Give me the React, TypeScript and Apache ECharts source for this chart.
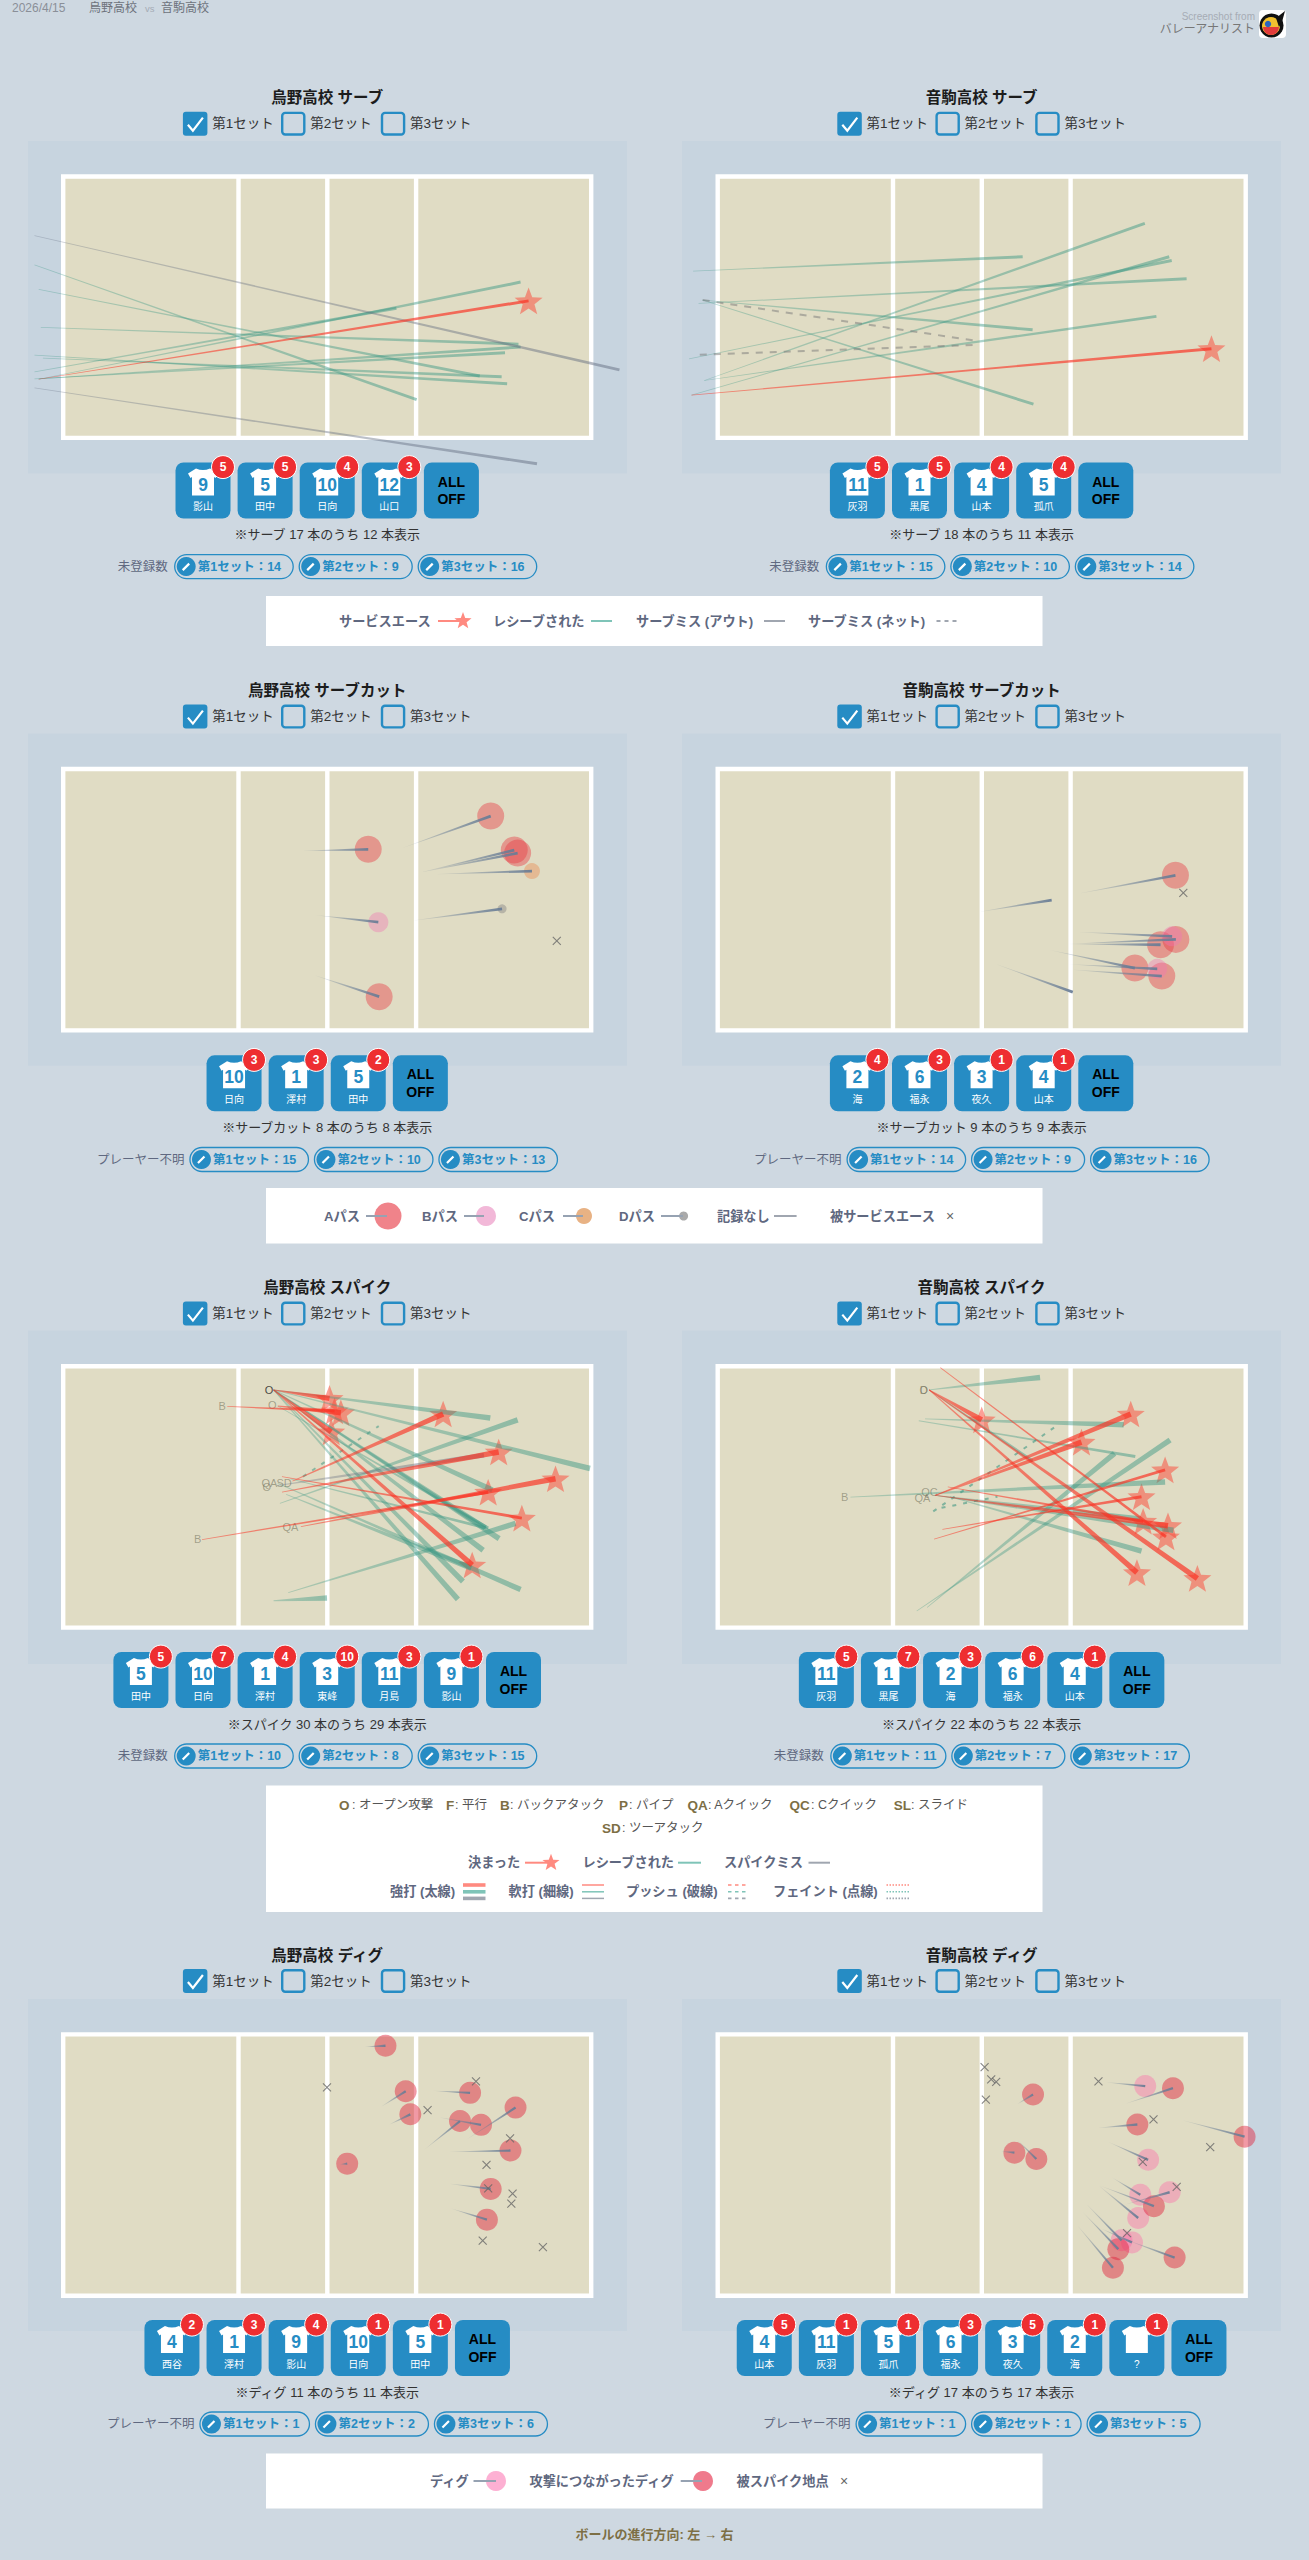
import React, { useEffect, useRef } from "react";
import * as echarts from "echarts";

const FONT = '"Liberation Sans", "Noto Sans CJK JP", sans-serif';
const BLUE = "#268cc4";
const TEXT_GREY = "#5f6880";
const KEY_BROWN = "#7d6f45";

// Court coordinates below: [startX, startY, endX, endY, hit]
// hit: S = soft, H = strong
const S = 0;
const H = 1;

// ---- serve: Karasuno
const serveKarasunoAce = [[92, 929, 1256, 737, S]];
const serveKarasunoReceived = [
  [82, 649, 990, 979, S], [92, 709, 1140, 921, S], [102, 877, 1192, 923, S],
  [82, 870, 1205, 940, S], [97, 802, 1232, 843, S], [92, 928, 1237, 850, S],
  [82, 928, 1200, 864, S], [82, 911, 942, 755, S], [92, 929, 1237, 691, S],
];
const serveKarasunoOut = [[82, 577, 1472, 906, S], [82, 950, 1276, 1136, S]];

// ---- serve: Nekoma
const serveNekomaAce = [[76, 968, 1332, 854, S]];
const serveNekomaReceived = [
  [80, 664, 876, 629, S], [93, 743, 1272, 683, S], [103, 735, 900, 808, S],
  [103, 735, 902, 990, S], [70, 879, 1236, 638, S], [76, 968, 1230, 629, S],
  [107, 932, 1171, 547, S], [107, 932, 1199, 775, S],
];
const serveNekomaNet = [[96, 869, 760, 845], [103, 735, 765, 835]];

// ---- serve receive: Karasuno
const cutKarasunoA = [
  [953, 493, 1166, 408], [722, 499, 875, 495], [1005, 554, 1222, 497],
  [1005, 554, 1230, 505], [750, 826, 901, 881],
];
const cutKarasunoB = [[747, 667, 899, 686]];
const cutKarasunoC = [[1040, 560, 1264, 552]];
const cutKarasunoD = [[985, 681, 1193, 651]];
const cutKarasunoNone: number[][] = [];
const cutKarasunoAced = [[1323, 735]];

// ---- serve receive: Nekoma
const cutNekomaA = [
  [1017, 610, 1245, 563], [985, 743, 1246, 731], [985, 743, 1209, 745],
  [938, 758, 1147, 806], [1000, 811, 1212, 827],
];
const cutNekomaB = [[985, 796, 1201, 808], [1015, 712, 1237, 723]];
const cutNekomaC: number[][] = [];
const cutNekomaD: number[][] = [];
const cutNekomaNone = [[775, 658, 946, 628], [815, 797, 997, 869]];
const cutNekomaAced = [[1264, 609]];

// ---- spike: Karasuno
const spikeKarasunoKills = [
  [650, 291, 783, 310, H], [540, 328, 795, 338, S], [660, 327, 810, 342, H],
  [650, 291, 787, 385, H], [670, 485, 1240, 578, S], [695, 495, 1053, 345, H],
  [670, 520, 1185, 430, H], [480, 626, 1160, 520, S], [715, 597, 1320, 490, H],
  [650, 291, 1122, 683, H],
];
const spikeKarasunoReceived = [
  [650, 291, 1165, 354, H], [650, 291, 1402, 467, H], [650, 291, 1088, 760, H],
  [650, 291, 1100, 720, H], [650, 291, 1148, 650, H], [650, 291, 1186, 624, H],
  [650, 291, 1153, 600, H], [650, 291, 1170, 515, H], [660, 500, 1237, 738, H],
  [680, 525, 1120, 690, H], [665, 545, 1230, 358, H], [685, 745, 1225, 590, H],
  [650, 763, 777, 757, H], [690, 490, 1155, 600, S], [660, 327, 1160, 600, S],
];
const spikeKarasunoMiss = [[660, 505, 1150, 437, H]];
const spikeKarasunoPush = [[720, 485, 900, 372]];
const spikeKarasunoLabels = [
  { name: "B", value: [528, 326] }, { name: "O", value: [647, 325] },
  { name: "QA", value: [640, 500] }, { name: "SD", value: [675, 500] },
  { name: "O", value: [634, 508] }, { name: "B", value: [470, 624] },
  { name: "QA", value: [690, 597] },
];
const spikeKarasunoActiveLabels = [{ name: "O", value: [639, 291] }];

// ---- spike: Nekoma
const spikeNekomaKills = [
  [650, 291, 1152, 700, H], [650, 291, 1298, 713, H], [650, 291, 777, 358, H],
  [677, 241, 1222, 620, S], [665, 527, 1137, 345, H], [665, 527, 1018, 408, H],
  [662, 625, 1220, 470, S], [682, 603, 1163, 530, S], [695, 508, 1167, 585, S],
  [665, 527, 1227, 595, H],
];
const spikeNekomaReceived = [
  [650, 291, 918, 263, H], [640, 356, 1120, 369, H], [625, 360, 1148, 440, S],
  [460, 531, 1220, 497, H], [620, 786, 1232, 403, H], [645, 778, 1098, 433, H],
  [700, 530, 1163, 652, H], [665, 527, 1160, 580, H], [665, 527, 1240, 605, H],
  [650, 291, 900, 450, S],
];
const spikeNekomaMiss: number[][] = [];
const spikeNekomaPush = [[660, 563, 965, 367], [680, 555, 815, 530]];
const spikeNekomaLabels = [
  { name: "O", value: [637, 291] }, { name: "D", value: [637, 291] },
  { name: "QC", value: [651, 519] }, { name: "QA", value: [634, 532] },
  { name: "B", value: [446, 531] },
];

// ---- dig: Karasuno
const digKarasunoConnected = [
  [868, 349, 916, 346], [907, 490, 964, 454], [926, 533, 975, 509], [808, 628, 825, 626],
  [1027, 453, 1117, 458], [1008, 593, 1093, 525], [1047, 517, 1143, 534], [1107, 570, 1225, 493],
  [1070, 598, 1213, 595], [1070, 674, 1166, 686], [1070, 732, 1157, 759],
];
const digKarasunoPlain: number[][] = [];
const digKarasunoSpots = [
  [777, 445], [1016, 499], [1131, 431], [1212, 566], [1156, 629],
  [1160, 685], [1218, 697], [1215, 721], [1147, 809], [1290, 824],
];

// ---- dig: Nekoma
const digNekomaConnected = [
  [864, 484, 901, 462], [825, 597, 856, 600], [865, 572, 909, 615], [1127, 483, 1239, 447],
  [1060, 541, 1153, 533], [1265, 524, 1412, 562], [1062, 678, 1193, 727], [1130, 808, 1243, 849],
  [1022, 742, 1107, 829], [1010, 775, 1094, 873],
];
const digNekomaPlain = [
  [1080, 433, 1172, 442], [1082, 574, 1179, 617], [1092, 659, 1160, 700], [1127, 722, 1231, 694],
  [1062, 680, 1155, 755], [1032, 724, 1115, 808], [1065, 780, 1140, 813],
];
const digNekomaSpots = [
  [784, 397], [800, 426], [812, 432], [787, 474], [1059, 431],
  [1192, 521], [1329, 587], [1166, 622], [1248, 681], [1128, 791],
];

// ---- panel texts
const titles = [
  "烏野高校 サーブ", "音駒高校 サーブ", "烏野高校 サーブカット", "音駒高校 サーブカット",
  "烏野高校 スパイク", "音駒高校 スパイク", "烏野高校 ディグ", "音駒高校 ディグ",
];
const notes = [
  "※サーブ 17 本のうち 12 本表示", "※サーブ 18 本のうち 11 本表示",
  "※サーブカット 8 本のうち 8 本表示", "※サーブカット 9 本のうち 9 本表示",
  "※スパイク 30 本のうち 29 本表示", "※スパイク 22 本のうち 22 本表示",
  "※ディグ 11 本のうち 11 本表示", "※ディグ 17 本のうち 17 本表示",
];
const pillLabels = ["未登録数", "未登録数", "プレーヤー不明", "プレーヤー不明", "未登録数", "未登録数", "プレーヤー不明", "プレーヤー不明"];
const pillCounts = [
  [14, 9, 16], [15, 10, 14], [15, 10, 13], [14, 9, 16],
  [10, 8, 15], [11, 7, 17], [1, 2, 6], [1, 1, 5],
];
const setNames = ["第1セット", "第2セット", "第3セット"];
const playerNumbers = [
  ["9", "5", "10", "12"], ["11", "1", "4", "5"], ["10", "1", "5"], ["2", "6", "3", "4"],
  ["5", "10", "1", "3", "11", "9"], ["11", "1", "2", "6", "4"],
  ["4", "1", "9", "10", "5"], ["4", "11", "5", "6", "3", "2", ""],
];
const playerNames = [
  ["影山", "田中", "日向", "山口"], ["灰羽", "黒尾", "山本", "孤爪"], ["日向", "澤村", "田中"], ["海", "福永", "夜久", "山本"],
  ["田中", "日向", "澤村", "東峰", "月島", "影山"], ["灰羽", "黒尾", "海", "福永", "山本"],
  ["西谷", "澤村", "影山", "日向", "田中"], ["山本", "灰羽", "孤爪", "福永", "夜久", "海", "?"],
];
const playerCounts = [
  [5, 5, 4, 3], [5, 5, 4, 4], [3, 3, 2], [4, 3, 1, 1],
  [5, 7, 4, 10, 3, 1], [5, 7, 3, 6, 1],
  [2, 3, 4, 1, 1], [5, 1, 1, 3, 5, 1, 1],
];

// ---- layout (page pixels)
const COL_CENTER = [327.2, 981.6];
const COURT_LEFT = [61, 715.5];
const COURT_WIDTH = 532.4;
const COURT_HEIGHT = 265.8;
const ROW_TITLE = [97, 690.6, 1287, 1955];
const ROW_CHECK = [123.7, 716.6, 1313.6, 1981];
const ROW_BACK = [[141, 473.5], [733.5, 1065.7], [1330.5, 1664], [1999, 2331]];
const ROW_COURT = [174.3, 766.8, 1364, 2032.2];
const ROW_BUTTON = [462.5, 1055.3, 1652, 2320];
const ROW_NOTE = [534.7, 1127.2, 1724, 2392.5];
const ROW_PILL = [566.6, 1159.5, 1756, 2424];
// read-off scale of the court edges per panel
const X_SCALE = [[145, 1410], [134, 1420]];
const Y_SCALE = [[427, 1078], [279, 975], [233, 828], [314, 945]];

const RED_LINE = ["rgba(250,50,35,0.5)", "rgba(250,50,35,0.7)"];
const TEAL_LINE = ["rgba(55,150,130,0.32)", "rgba(55,150,130,0.48)"];
const GREY_LINE = ["rgba(95,105,125,0.3)", "rgba(95,105,125,0.48)"];
const CUT_LINE = ["rgba(105,125,150,0.08)", "rgba(105,125,150,0.95)"];
const STAR_FILL = "rgba(250,80,65,0.68)";

function starPoints(cx: number, cy: number, R: number) {
  const pts: number[][] = [];
  for (let i = 0; i < 10; i++) {
    const r = i % 2 === 0 ? R : R * 0.42;
    const a = -Math.PI / 2 + (i * Math.PI) / 5;
    pts.push([cx + r * Math.cos(a), cy + r * Math.sin(a)]);
  }
  return pts;
}
const STAR_PATH =
  "path://" + starPoints(50, 50, 50).map((p, i) => (i ? "L" : "M") + p[0].toFixed(2) + " " + p[1].toFixed(2)).join("") + "Z";
const CROSS_PATH = "path://M0 0L10 10M10 0L0 10";

const axisPick = (p: number) => ({ xAxisIndex: p, yAxisIndex: p });

function tapered(p: number, rows: number[][], colors: string[], softW: number, hardW: number, startW: number) {
  return {
    type: "custom", ...axisPick(p), data: rows, z: 5, silent: true, clip: false,
    renderItem: (_: any, api: any) => {
      const a = api.coord([api.value(0), api.value(1)]);
      const b = api.coord([api.value(2), api.value(3)]);
      const hit = api.value(4);
      const w = hit === H ? hardW : softW;
      const dx = b[0] - a[0];
      const dy = b[1] - a[1];
      const len = Math.hypot(dx, dy) || 1;
      const nx = -dy / len;
      const ny = dx / len;
      return {
        type: "polygon",
        shape: {
          points: [
            [a[0] + (nx * startW) / 2, a[1] + (ny * startW) / 2],
            [b[0] + (nx * w) / 2, b[1] + (ny * w) / 2],
            [b[0] - (nx * w) / 2, b[1] - (ny * w) / 2],
            [a[0] - (nx * startW) / 2, a[1] - (ny * startW) / 2],
          ],
        },
        style: {
          fill: new echarts.graphic.LinearGradient(a[0], a[1], b[0], b[1], [
            { offset: 0, color: colors[0] },
            { offset: 1, color: colors[1] },
          ], true),
        },
      };
    },
  };
}
function dashed(p: number, rows: number[][], stroke: string, lineWidth: number, dash: number[]) {
  return {
    type: "custom", ...axisPick(p), data: rows, z: 5, silent: true, clip: false,
    renderItem: (_: any, api: any) => {
      const a = api.coord([api.value(0), api.value(1)]);
      const b = api.coord([api.value(2), api.value(3)]);
      return {
        type: "line",
        shape: { x1: a[0], y1: a[1], x2: b[0], y2: b[1] },
        style: { stroke, lineWidth, lineDash: dash, fill: "none" },
      };
    },
  };
}
const ends = (rows: number[][]) => rows.map((r) => [r[2], r[3]]);
function dots(p: number, points: number[][], size: number, color: string) {
  return { type: "scatter", ...axisPick(p), data: points, symbol: "circle", symbolSize: size, itemStyle: { color }, z: 3, silent: true, clip: false };
}
function stars(p: number, rows: number[][]) {
  return {
    type: "scatter", ...axisPick(p), data: ends(rows), symbol: STAR_PATH, symbolSize: 28, symbolKeepAspect: true,
    itemStyle: { color: STAR_FILL }, z: 3, silent: true, clip: false,
  };
}
function crosses(p: number, points: number[][]) {
  return {
    type: "scatter", ...axisPick(p), data: points, symbol: CROSS_PATH, symbolSize: 8,
    itemStyle: { color: "none", borderColor: "#666", borderWidth: 1.1 }, z: 6, silent: true, clip: false,
  };
}
function shotLabels(p: number, items: any[], color: string) {
  return {
    type: "scatter", ...axisPick(p), data: items, symbolSize: 1, itemStyle: { color: "transparent" }, z: 4, silent: true, clip: false,
    label: { show: true, position: "inside", formatter: (d: any) => d.name, fontSize: 11, fontFamily: FONT, color },
  };
}

function cutSeries(p: number, a: number[][], b: number[][], c: number[][], d: number[][], none: number[][], aced: number[][]) {
  return [
    dots(p, ends(a), 27, "rgba(232,55,65,0.52)"),
    dots(p, ends(b), 20, "rgba(240,120,180,0.5)"),
    dots(p, ends(c), 16, "rgba(228,172,128,0.9)"),
    dots(p, ends(d), 9, "rgba(130,130,130,0.55)"),
    tapered(p, [...a, ...b, ...c, ...d, ...none], CUT_LINE, 2.8, 2.8, 0.2),
    crosses(p, aced),
  ];
}
function digSeries(p: number, connected: number[][], plain: number[][], spots: number[][]) {
  return [
    dots(p, ends(plain), 22, "rgba(255,105,170,0.5)"),
    dots(p, ends(connected), 22, "rgba(225,35,60,0.58)"),
    tapered(p, [...plain, ...connected], CUT_LINE, 2.4, 2.4, 0.2),
    crosses(p, spots),
  ];
}

const seriesList: any[] = [
  stars(0, serveKarasunoAce),
  tapered(0, serveKarasunoReceived, TEAL_LINE, 3, 3, 0.7),
  tapered(0, serveKarasunoOut, GREY_LINE, 3, 3, 0.7),
  tapered(0, serveKarasunoAce, RED_LINE, 3, 3, 0.7),

  stars(1, serveNekomaAce),
  tapered(1, serveNekomaReceived, TEAL_LINE, 3, 3, 0.7),
  dashed(1, serveNekomaNet, "rgba(120,120,120,0.5)", 2, [7, 7]),
  tapered(1, serveNekomaAce, RED_LINE, 3, 3, 0.7),

  ...cutSeries(2, cutKarasunoA, cutKarasunoB, cutKarasunoC, cutKarasunoD, cutKarasunoNone, cutKarasunoAced),
  ...cutSeries(3, cutNekomaA, cutNekomaB, cutNekomaC, cutNekomaD, cutNekomaNone, cutNekomaAced),

  stars(4, spikeKarasunoKills),
  tapered(4, spikeKarasunoReceived, TEAL_LINE, 3, 5.5, 0.8),
  tapered(4, spikeKarasunoMiss, GREY_LINE, 3, 5, 0.8),
  dashed(4, spikeKarasunoPush, "rgba(50,145,125,0.5)", 2, [4, 7]),
  tapered(4, spikeKarasunoKills, RED_LINE, 3, 5.5, 0.8),
  shotLabels(4, spikeKarasunoLabels, "rgba(90,90,70,0.6)"),
  shotLabels(4, spikeKarasunoActiveLabels, "#222"),

  stars(5, spikeNekomaKills),
  tapered(5, spikeNekomaReceived, TEAL_LINE, 3, 5.5, 0.8),
  tapered(5, spikeNekomaMiss, GREY_LINE, 3, 5, 0.8),
  dashed(5, spikeNekomaPush, "rgba(50,145,125,0.55)", 2, [4, 7]),
  tapered(5, spikeNekomaKills, RED_LINE, 3, 5.5, 0.8),
  shotLabels(5, spikeNekomaLabels, "rgba(90,90,70,0.6)"),

  ...digSeries(6, digKarasunoConnected, digKarasunoPlain, digKarasunoSpots),
  ...digSeries(7, digNekomaConnected, digNekomaPlain, digNekomaSpots),
];

// ---- graphic helpers
function txt(x: number, y: number, text: string, o: any = {}) {
  return {
    type: "text", x, y, silent: true, z: o.z ?? 1,
    style: {
      text, fill: o.color ?? "#333", fontSize: o.size ?? 13, fontWeight: o.weight ?? "normal", fontFamily: FONT,
      align: o.align ?? "left", verticalAlign: "middle",
    },
  };
}
function rect(x: number, y: number, width: number, height: number, style: any, r = 0, z = 0) {
  return { type: "rect", silent: true, z, shape: { x, y, width, height, r }, style };
}
function line(x1: number, y1: number, x2: number, y2: number, stroke: string, lineWidth: number, dash?: number[], z = 1) {
  return { type: "line", silent: true, z, shape: { x1, y1, x2, y2 }, style: { stroke, lineWidth, lineDash: dash, fill: "none" } };
}
function circle(cx: number, cy: number, r: number, style: any, z = 1) {
  return { type: "circle", silent: true, z, shape: { cx, cy, r }, style };
}
function star(cx: number, cy: number, R: number, z = 1) {
  return { type: "polygon", silent: true, z, shape: { points: starPoints(cx, cy, R) }, style: { fill: "#ff8a80" } };
}

function panelGraphics(p: number) {
  const col = p % 2;
  const row = Math.floor(p / 2);
  const c = COL_CENTER[col];
  const out: any[] = [];
  const backL = col === 0 ? 28 : 682;
  out.push(rect(backL, ROW_BACK[row][0], 599, ROW_BACK[row][1] - ROW_BACK[row][0], { fill: "#c7d4df" }, 0, -3));
  const L = COURT_LEFT[col];
  const T = ROW_COURT[row];
  out.push(rect(L + 2.2, T + 2.2, COURT_WIDTH - 4.4, COURT_HEIGHT - 4.4, { fill: "#e0dcc4", stroke: "#fff", lineWidth: 4.4 }, 0, -2));
  [177.5, 266.3, 355.1].forEach((dx) => out.push(line(L + dx, T + 2, L + dx, T + COURT_HEIGHT - 2, "#fff", 4.4, undefined, -2)));

  out.push(txt(c, ROW_TITLE[row], titles[p], { size: 15.5, weight: "bold", color: "#1c1c1c", align: "center" }));
  const boxX = [-144.3, -46.2, 53.6];
  const labX = [-115, -17, 82.8];
  const yc = ROW_CHECK[row];
  setNames.forEach((name, i) => {
    if (i === 0) {
      out.push(rect(c + boxX[i], yc - 12, 24.5, 24, { fill: BLUE }, 3));
      out.push({ type: "polyline", silent: true, z: 2, shape: { points: [[c + boxX[i] + 5, yc + 1], [c + boxX[i] + 10, yc + 7], [c + boxX[i] + 20, yc - 6]] }, style: { stroke: "#fff", lineWidth: 2.2, fill: "none" } });
    } else {
      out.push(rect(c + boxX[i] + 1.2, yc - 10.8, 22.1, 21.6, { fill: "none", stroke: BLUE, lineWidth: 2.4 }, 3));
    }
    out.push(txt(c + labX[i], yc, name, { size: 13.5, color: "#333" }));
  });

  const nums = playerNumbers[p];
  const n = nums.length + 1;
  const W = 55;
  const pitch = 62.1;
  const startX = c - (W * n + (pitch - W) * (n - 1)) / 2;
  const top = ROW_BUTTON[row];
  nums.forEach((num, i) => {
    const x = startX + i * pitch;
    out.push(rect(x, top, W, 56, { fill: BLUE }, 8, 2));
    out.push({ type: "shirt", silent: true, z: 3, x: x + 12.5, y: top + 6, scaleX: 1, scaleY: 1, style: { fill: "#fff" } });
    if (num) out.push(txt(x + 27.5, top + 22, num, { size: 17.5, weight: "bold", color: BLUE, align: "center", z: 4 }));
    out.push(txt(x + 27.5, top + 44, playerNames[p][i], { size: 10, color: "#fff", align: "center", z: 4 }));
    out.push(circle(x + 47.5, top + 4.6, 11.5, { fill: "#ee2e31", stroke: "#fff", lineWidth: 1 }, 5));
    out.push(txt(x + 47.5, top + 4.6, String(playerCounts[p][i]), { size: 12, weight: "bold", color: "#fff", align: "center", z: 6 }));
  });
  const xOff = startX + nums.length * pitch;
  out.push(rect(xOff, top, W, 56, { fill: BLUE }, 8, 2));
  out.push(txt(xOff + 27.5, top + 19, "ALL", { size: 14, weight: "bold", color: "#000", align: "center", z: 4 }));
  out.push(txt(xOff + 27.5, top + 36.5, "OFF", { size: 14, weight: "bold", color: "#000", align: "center", z: 4 }));

  out.push(txt(c, ROW_NOTE[row], notes[p], { size: 13, color: "#333", align: "center" }));

  const labelW = pillLabels[p].length > 4 ? 86 : 50;
  const pillW = (v: number) => 104 + String(v).split("").reduce((s, d) => s + (d === "1" ? 5.5 : 9), 0);
  const widths = pillCounts[p].map(pillW);
  const total = labelW + 7 + widths[0] + widths[1] + widths[2] + 12;
  let px = c - total / 2;
  const py = ROW_PILL[row];
  out.push(txt(px, py, pillLabels[p], { size: 12.5, color: TEXT_GREY }));
  px += labelW + 7;
  pillCounts[p].forEach((v, i) => {
    out.push(rect(px, py - 12, widths[i], 24, { fill: "none", stroke: BLUE, lineWidth: 1.3 }, 12));
    out.push(circle(px + 11.5, py, 9.5, { fill: BLUE }));
    out.push(line(px + 8, py + 3.5, px + 14.5, py - 3, "#fff", 2.2, undefined, 2));
    out.push(txt(px + 23, py, `${setNames[i]}：${v}`, { size: 12.5, weight: "bold", color: BLUE }));
    px += widths[i] + 6;
  });
  return out;
}

function legendGraphics() {
  const out: any[] = [];
  const lab = (x: number, y: number, s: string) => txt(x, y, s, { size: 13.2, weight: "bold", color: TEXT_GREY });
  const bg = (y1: number, y2: number) => out.push(rect(266, y1, 776.5, y2 - y1, { fill: "#fff" }, 0, -1));

  // serve
  bg(596, 646);
  let y = 621;
  out.push(lab(339, y, "サービスエース"), line(438, y, 459, y, "#ff8a80", 2), star(463, y, 9));
  out.push(lab(493, y, "レシーブされた"), line(591, y, 612, y, "#7fc4b8", 2));
  out.push(lab(636, y, "サーブミス (アウト)"), line(764, y, 785, y, "#a0a6b0", 2));
  out.push(lab(808, y, "サーブミス (ネット)"), line(936.5, y, 957, y, "#a0a6b0", 2, [4, 4]));

  // serve receive
  bg(1188, 1243.6);
  y = 1216;
  const bar = (x1: number, x2: number) => line(x1, y, x2, y, "#96a2b2", 2, undefined, 3);
  out.push(lab(324, y, "Aパス"), circle(388, y, 13.5, { fill: "#f0838a" }, 2), bar(366, 387));
  out.push(lab(422, y, "Bパス"), circle(486, y, 10, { fill: "#f2b8d8" }, 2), bar(464, 484));
  out.push(lab(519, y, "Cパス"), circle(584, y, 8, { fill: "#e8b284" }, 2), bar(563, 583));
  out.push(lab(619, y, "Dパス"), circle(683.6, y, 4.5, { fill: "#aaa" }, 2), bar(661, 683));
  out.push(lab(717, y, "記録なし"), line(774, y, 796.6, y, "#a0a6b0", 2));
  out.push(lab(830, y, "被サービスエース"), txt(950, y, "×", { size: 14, color: "#666", align: "center" }));

  // spike
  bg(1785.4, 1912);
  const keyItems: [number, string, number, string][] = [
    [339, "O", 352, ": オープン攻撃"], [446, "F", 455, ": 平行"], [500, "B", 510, ": バックアタック"],
    [619, "P", 629, ": パイプ"], [687.5, "QA", 708, ": Aクイック"], [789.6, "QC", 811, ": Cクイック"],
    [893.7, "SL", 911, ": スライド"],
  ];
  keyItems.forEach(([kx, k, dx, d]) => {
    out.push(txt(kx, 1805, k, { size: 13.5, weight: "bold", color: KEY_BROWN }));
    out.push(txt(dx, 1805, d, { size: 12.5, color: "#555" }));
  });
  out.push(txt(602, 1828, "SD", { size: 13.5, weight: "bold", color: KEY_BROWN }));
  out.push(txt(622, 1828, ": ツーアタック", { size: 12.5, color: "#555" }));

  y = 1862.7;
  out.push(lab(468, y, "決まった"), line(525, y, 548, y, "#ff8a80", 2), star(551, y, 9));
  out.push(lab(582.5, y, "レシーブされた"), line(678, y, 701, y, "#7fc4b8", 2));
  out.push(lab(724, y, "スパイクミス"), line(808.5, y, 830, y, "#a0a6b0", 2));

  y = 1891.7;
  const triple = (x1: number, x2: number, w: number, dash?: number[]) => {
    out.push(line(x1, 1885, x2, 1885, "#ff8a80", w, dash));
    out.push(line(x1, 1891.8, x2, 1891.8, "#7fc4b8", w, dash));
    out.push(line(x1, 1898.4, x2, 1898.4, "#a0a6b0", w, dash));
  };
  out.push(lab(390, y, "強打 (太線)"));
  triple(463, 485.5, 3.6);
  out.push(lab(508.5, y, "軟打 (細線)"));
  triple(582, 604, 1.5);
  out.push(lab(626, y, "プッシュ (破線)"));
  triple(728, 748, 1.6, [3.5, 3.5]);
  out.push(lab(773, y, "フェイント (点線)"));
  triple(886.5, 909, 1.6, [1.5, 1.5]);

  // dig
  bg(2453.5, 2508.6);
  y = 2481;
  out.push(lab(430, y, "ディグ"), circle(496, y, 10, { fill: "#fdb0d3" }, 2), bar(473.5, 496));
  out.push(lab(529.5, y, "攻撃につながったディグ"), circle(703, y, 10, { fill: "#ef7a8c" }, 2), bar(680.7, 702));
  out.push(lab(736.6, y, "被スパイク地点"), txt(844, y, "×", { size: 14, color: "#666", align: "center" }));

  out.push(txt(654.5, 2534, "ボールの進行方向: 左 → 右", { size: 13, weight: "bold", color: KEY_BROWN, align: "center" }));
  return out;
}

function headerGraphics() {
  const y = 7.5;
  return [
    txt(12, y, "2026/4/15", { size: 12, color: "#8a8f98" }),
    txt(89, y, "烏野高校", { size: 12, color: "#6d727c" }),
    txt(145, y + 1, "vs", { size: 9.5, color: "#a5abb5" }),
    txt(161, y, "音駒高校", { size: 12, color: "#6d727c" }),
    txt(1255, 16, "Screenshot from", { size: 10, color: "#a6acb5", align: "right" }),
    txt(1255, 29, "バレーアナリスト", { size: 12, color: "#777", align: "right" }),
    rect(1259, 10, 27, 28, { fill: "#fff" }, 4),
    circle(1271.5, 25.5, 12, { fill: "#111" }),
    circle(1271, 26, 9, { fill: "#f2c230" }),
    { type: "sector", silent: true, z: 2, shape: { cx: 1271, cy: 27, r: 8, r0: 0, startAngle: 0, endAngle: Math.PI }, style: { fill: "#e23b3b" } },
    circle(1268, 24, 3.2, { fill: "#2b65c0" }, 3),
    { type: "polygon", silent: true, z: 2, shape: { points: [[1276, 18], [1285, 11], [1282, 22], [1279, 27]] }, style: { fill: "#111" } },
  ];
}

export default function App() {
  const ref = useRef<HTMLDivElement>(null);
  useEffect(() => {
    document.body.style.margin = "0";
    document.body.style.background = "#ced8e1";
    echarts.graphic.registerShape(
      "shirt",
      echarts.graphic.extendPath("M8 0L0 5L2.5 9.5L4 8.5L4 27L26 27L26 8.5L27.5 9.5L30 5L22 0Q15 3 8 0Z", {})
    );
    const chart = echarts.init(ref.current!, undefined, { renderer: "svg" });
    const grids: any[] = [];
    const xAxes: any[] = [];
    const yAxes: any[] = [];
    for (let p = 0; p < 8; p++) {
      const col = p % 2;
      const row = Math.floor(p / 2);
      grids.push({ left: COURT_LEFT[col], top: ROW_COURT[row], width: COURT_WIDTH, height: COURT_HEIGHT, show: false });
      xAxes.push({ type: "value", gridIndex: p, show: false, min: X_SCALE[col][0], max: X_SCALE[col][1], splitLine: { show: false } });
      yAxes.push({ type: "value", gridIndex: p, show: false, inverse: true, min: Y_SCALE[row][0], max: Y_SCALE[row][1], splitLine: { show: false } });
    }
    const elements: any[] = [...headerGraphics(), ...legendGraphics()];
    for (let p = 0; p < 8; p++) elements.push(...panelGraphics(p));
    chart.setOption({
      animation: false,
      backgroundColor: "#ced8e1",
      grid: grids,
      xAxis: xAxes,
      yAxis: yAxes,
      series: seriesList,
      graphic: { elements },
    });
    return () => chart.dispose();
  }, []);
  return <div ref={ref} style={{ width: 1309, height: 2560 }} />;
}
